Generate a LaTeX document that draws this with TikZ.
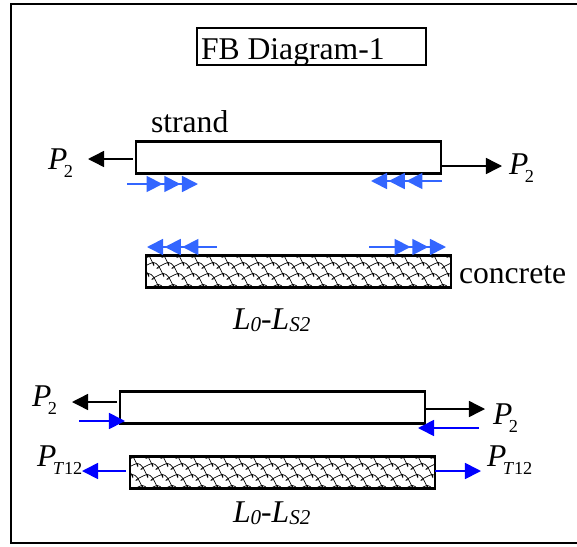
\documentclass[tikz,border=0pt]{standalone}
\usepackage{fontspec}
\setmainfont{Liberation Serif}
\usepackage{xcolor}
\usepackage{tikz}
\usetikzlibrary{arrows.meta}
\tikzset{every picture/.append style={font=\fontsize{22.5}{26}\selectfont}}
\definecolor{figfric}{HTML}{3366FF}
\definecolor{figpull}{HTML}{0000FF}
\newcommand{\subtwo}[1]{\kern-2.5pt\raisebox{-6pt}{\fontsize{13}{14}\selectfont #1}}
\newcommand{\lenlab}{\textit{L}\raisebox{-2pt}{\fontsize{15}{16}\selectfont\textit{0}}-\textit{L}\raisebox{-2pt}{\fontsize{15}{16}\selectfont\textit{S2}}}
\tikzset{
  lab/.style={anchor=base west,inner sep=0pt,outer sep=0pt},
  barbox/.style={draw=black,line width=1.8pt,fill=white,inner sep=0pt,outer sep=0pt,minimum width=7.625cm,minimum height=0.79cm},
  concbox/.style={barbox,minimum height=0.81cm,path picture={
      \foreach \i in {-13,...,13} \foreach \j in {-2,...,2} {
        \draw[line width=0.5pt] ({\i*15+\j*10},{\j*11+2}) .. controls +(7,0) and +(2,11) .. +(10,11);
        \draw[line width=0.5pt] ({\i*15+\j*10},{\j*11+2}) .. controls +(-3,0) and +(-6,2) .. +(-10,5.5);
      }
    }},
  pullblack/.style={-{Triangle[length=11.4pt,width=11.4pt]},line width=1pt,black},
  pullblue/.style={-{Triangle[length=11.4pt,width=11.4pt]},line width=1.2pt,figpull},
  fricarrow/.style={-{Triangle[length=11.4pt,width=11.4pt,sep=1.2pt]Triangle[length=11.4pt,width=11.4pt,sep=1.2pt]Triangle[length=11.4pt,width=11.4pt]},line width=1.2pt,figfric}
}
\begin{document}
\begin{tikzpicture}[x=0.025cm,y=-0.025cm]
    \useasboundingbox (0,0) rectangle (577,546);
    \draw[line width=1.6pt] (577,4) -- (11,4) -- (11,543) -- (577,543);

    \node[draw=black,line width=1.6pt,inner sep=0pt,outer sep=0pt,minimum width=5.725cm,minimum height=0.925cm] (titlebox) at (311.5,46.5) {};
    \node[lab] (titletext) at (201,59) {FB Diagram-1};

    % upper pair
    \node[barbox] (strandA) at (288.5,157.5) {};
    \node[concbox] (concA) at (298.5,271.5) {};
    \node[lab] (strandtext) at (151,132) {strand};
    \node[lab] (conctext) at (459,283) {concrete};
    \node[lab] (lenA) at (233,329) {\lenlab};
    \node[lab] (pAleft) at (48,169) {\textit{P}\subtwo{2}};
    \node[lab] (pAright) at (509,174) {\textit{P}\subtwo{2}};

    \coordinate (aLs) at (133,159);
    \coordinate (aLe) at (88,159);
    \coordinate (aRs) at (441,166);
    \coordinate (aRe) at (502,166);
    \draw[pullblack] (aLs) -- (aLe);
    \draw[pullblack] (aRs) -- (aRe);

    \coordinate (fAs) at (127,184);
    \coordinate (fAe) at (198,184);
    \coordinate (fBs) at (442,181);
    \coordinate (fBe) at (371,181);
    \coordinate (fCs) at (217,247);
    \coordinate (fCe) at (147,247);
    \coordinate (fDs) at (369,247);
    \coordinate (fDe) at (446,247);
    \draw[fricarrow] (fAs) -- (fAe);
    \draw[fricarrow] (fBs) -- (fBe);
    \draw[fricarrow] (fCs) -- (fCe);
    \draw[fricarrow] (fDs) -- (fDe);

    % lower pair
    \node[barbox] (strandB) at (272.5,407.5) {};
    \node[concbox] (concB) at (282.5,472.5) {};
    \node[lab] (lenB) at (233,522) {\lenlab};
    \node[lab] (pBleft) at (32,406) {\textit{P}\subtwo{2}};
    \node[lab] (pBright) at (493,424) {\textit{P}\subtwo{2}};
    \node[lab] (ptleft) at (37,466) {\textit{P}\subtwo{\textit{T}12}};
    \node[lab] (ptright) at (487,466) {\textit{P}\subtwo{\textit{T}12}};

    \coordinate (bLs) at (117,402);
    \coordinate (bLe) at (72,402);
    \coordinate (bRs) at (425,409);
    \coordinate (bRe) at (485,409);
    \draw[pullblack] (bLs) -- (bLe);
    \draw[pullblack] (bRs) -- (bRe);

    \coordinate (gLs) at (79,421);
    \coordinate (gLe) at (125,421);
    \coordinate (gRs) at (479,428);
    \coordinate (gRe) at (418,428);
    \draw[pullblue] (gLs) -- (gLe);
    \draw[pullblue] (gRs) -- (gRe);

    \coordinate (tLs) at (126,471);
    \coordinate (tLe) at (82,471);
    \coordinate (tRs) at (435,471);
    \coordinate (tRe) at (481,471);
    \draw[pullblue] (tLs) -- (tLe);
    \draw[pullblue] (tRs) -- (tRe);
  \end{tikzpicture}
\end{document}
